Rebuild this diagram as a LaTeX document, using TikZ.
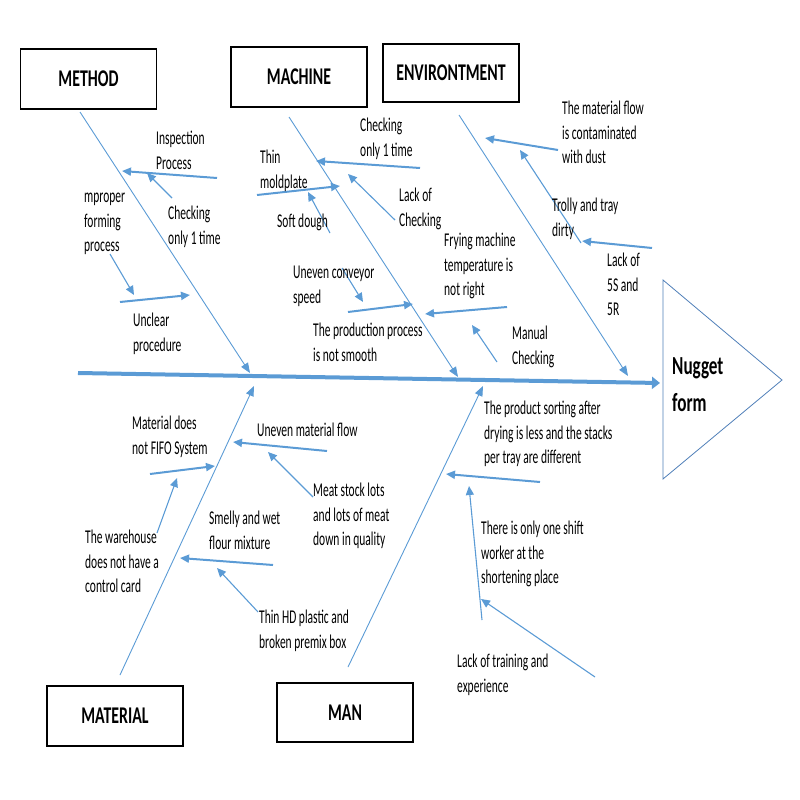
\documentclass[tikz,border=0pt]{standalone}
\usepackage{fontspec}
\setmainfont{Carlito}[FakeStretch=0.59]
\newfontfamily\headfont{Carlito}[FakeStretch=0.66]
\usetikzlibrary{arrows.meta}

\definecolor{bonecol}{HTML}{5B9BD5}
\definecolor{headcol}{HTML}{4F7FB8}

\tikzset{
	catbox/.style={draw,line width=1.2pt,minimum width=136pt,minimum height=60pt,inner sep=0pt,font=\headfont\fontsize{24}{28}\selectfont\bfseries},
	cause/.style={anchor=north west,inner sep=0pt,align=left,font=\fontsize{19.5}{24.5}\selectfont},
	bone/.style={draw=bonecol,line width=0.9pt,-{Triangle[length=10pt,width=8pt]}},
	twig/.style={draw=bonecol,line width=2pt,-{Triangle[length=9pt,width=8pt]}},
	subtwig/.style={draw=bonecol,line width=1.1pt,-{Triangle[length=9pt,width=8pt]}}
}

\begin{document}
\begin{tikzpicture}[x=1pt,y=-1pt]
	\useasboundingbox (0,0) rectangle (800,800);

	%category boxes
	\node[catbox] (method) at (88.5,79)  {METHOD};
	\node[catbox] (machine) at (299,77)  {MACHINE};
	\node[catbox,minimum height=58pt] (environ) at (451,73) {ENVIRONTMENT};
	\node[catbox] (material) at (115,716) {MATERIAL};
	\node[catbox,minimum height=59pt] (man) at (345,712.5) {MAN};

	%head
	\coordinate (hd1) at (663,280);
	\coordinate (hd2) at (782,380);
	\coordinate (hd3) at (663,479);
	\draw[headcol,line width=0.8pt] (hd1)--(hd2)--(hd3)--cycle;
	\node[anchor=north west,inner sep=0pt,align=left,font=\headfont\fontsize{26}{37}\selectfont\bfseries] (effect) at (672,357) {Nugget\\form};

	%spine and bones
	\coordinate (sp1) at (78,373);
	\coordinate (sp2) at (660,383);
	\draw[draw=bonecol,line width=4pt,-{Triangle[length=8pt,width=12pt]}] (sp1)--(sp2);	%spine
	\coordinate (mt1) at (80,112);	\coordinate (mt2) at (250,373);
	\coordinate (mc1) at (289,117);	\coordinate (mc2) at (458,377);
	\coordinate (en1) at (459,115);	\coordinate (en2) at (628,376);
	\coordinate (ma1) at (120,675);	\coordinate (ma2) at (254,386);
	\coordinate (mn1) at (348,667);	\coordinate (mn2) at (483,386);
	\draw[bone] (mt1)--(mt2);	%method
	\draw[bone] (mc1)--(mc2);	%machine
	\draw[bone] (en1)--(en2);	%environment
	\draw[bone] (ma1)--(ma2);	%material
	\draw[bone] (mn1)--(mn2);	%man

	%method causes
	\coordinate (insp1) at (217,178);	\coordinate (insp2) at (122,171);
	\coordinate (chka1) at (172,198);	\coordinate (chka2) at (147,173);
	\coordinate (impr1) at (110,254);	\coordinate (impr2) at (134,295);
	\coordinate (uncl1) at (120,302);	\coordinate (uncl2) at (190,295);
	\draw[twig] (insp1)--(insp2);
	\draw[subtwig] (chka1)--(chka2);
	\draw[subtwig] (impr1)--(impr2);
	\draw[twig] (uncl1)--(uncl2);
	\node[cause] (insp) at (156,131) {Inspection\\Process};
	\node[cause] (chka) at (168,206) {Checking\\only 1 time};
	\node[cause] (impr) at (84,193)  {mproper\\forming\\process};
	\node[cause] (uncl) at (133,313) {Unclear\\procedure};

	%machine causes
	\coordinate (chkb1) at (420,168);	\coordinate (chkb2) at (316,161);
	\coordinate (lack1) at (395,220);	\coordinate (lack2) at (348,174);
	\coordinate (thin1) at (257,195);	\coordinate (thin2) at (340,186);
	\coordinate (soft1) at (330,233);	\coordinate (soft2) at (308,192);
	\coordinate (conv1) at (342,268);	\coordinate (conv2) at (363,302);
	\coordinate (prod1) at (348,312);	\coordinate (prod2) at (413,304);
	\coordinate (fry1) at (507,307);	\coordinate (fry2) at (425,314);
	\coordinate (manu1) at (497,362);	\coordinate (manu2) at (472,325);
	\draw[twig] (chkb1)--(chkb2);
	\draw[subtwig] (lack1)--(lack2);
	\draw[twig] (thin1)--(thin2);
	\draw[subtwig] (soft1)--(soft2);
	\draw[subtwig] (conv1)--(conv2);
	\draw[twig] (prod1)--(prod2);
	\draw[twig] (fry1)--(fry2);
	\draw[subtwig] (manu1)--(manu2);
	\node[cause] (thin) at (260,150) {Thin\\moldplate};
	\node[cause] (chkb) at (360,118) {Checking\\only 1 time};
	\node[cause] (lack) at (399,188) {Lack of\\Checking};
	\node[cause] (soft) at (277,214) {Soft dough};
	\node[cause] (fry)  at (444,233) {Frying machine\\temperature is\\not right};
	\node[cause] (conv) at (293,266) {Uneven conveyor\\speed};
	\node[cause] (prod) at (313,323) {The production process\\is not smooth};
	\node[cause] (manu) at (512,326) {Manual\\Checking};

	%environment causes
	\coordinate (dust1) at (558,150);	\coordinate (dust2) at (485,138);
	\coordinate (trol1) at (581,243);	\coordinate (trol2) at (520,150);
	\coordinate (fives1) at (652,248);	\coordinate (fives2) at (582,241);
	\draw[twig] (dust1)--(dust2);
	\draw[subtwig] (trol1)--(trol2);
	\draw[twig] (fives1)--(fives2);
	\node[cause] (dust) at (562,101)  {The material flow\\is contaminated\\with dust};
	\node[cause] (trol) at (552,198) {Trolly and tray\\dirty};
	\node[cause] (fives) at (607,253) {Lack of\\5S and\\5R};

	%material causes
	\coordinate (unev1) at (327,451);	\coordinate (unev2) at (233,442);
	\coordinate (meat1) at (313,497);	\coordinate (meat2) at (268,452);
	\coordinate (fifo1) at (150,474);	\coordinate (fifo2) at (215,466);
	\coordinate (ware1) at (157,533);	\coordinate (ware2) at (177,478);
	\coordinate (smel1) at (273,565);	\coordinate (smel2) at (180,558);
	\coordinate (hdpl1) at (258,612);	\coordinate (hdpl2) at (217,568);
	\draw[twig] (unev1)--(unev2);
	\draw[subtwig] (meat1)--(meat2);
	\draw[twig] (fifo1)--(fifo2);
	\draw[subtwig] (ware1)--(ware2);
	\draw[twig] (smel1)--(smel2);
	\draw[subtwig] (hdpl1)--(hdpl2);
	\node[cause] (fifo) at (132,416) {Material does\\not FIFO System};
	\node[cause] (unev) at (257,423) {Uneven material flow};
	\node[cause] (meat) at (313,483) {Meat stock lots\\and lots of meat\\down in quality};
	\node[cause] (ware) at (85,530)  {The warehouse\\does not have a\\control card};
	\node[cause] (smel) at (209,511) {Smelly and wet\\flour mixture};
	\node[cause] (hdpl) at (259,610) {Thin HD plastic and\\broken premix box};

	%man causes
	\coordinate (sort1) at (540,482);	\coordinate (sort2) at (446,474);
	\coordinate (shift1) at (482,620);	\coordinate (shift2) at (469,486);
	\coordinate (train1) at (595,677);	\coordinate (train2) at (481,599);
	\draw[twig] (sort1)--(sort2);
	\draw[subtwig] (shift1)--(shift2);
	\draw[subtwig] (train1)--(train2);
	\node[cause] (sort) at (484,401)  {The product sorting after\\drying is less and the stacks\\per tray are different};
	\node[cause] (shift) at (481,521) {There is only one shift\\worker at the\\shortening place};
	\node[cause] (train) at (457,654) {Lack of training and\\experience};
\end{tikzpicture}
\end{document}
